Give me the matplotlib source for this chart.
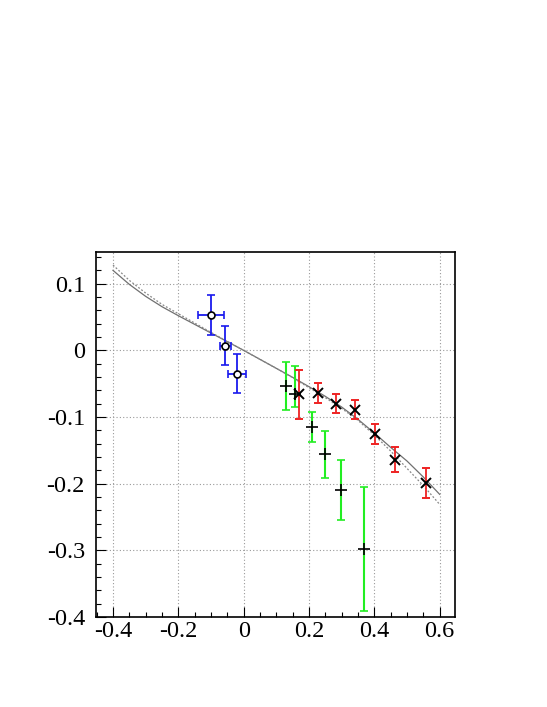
import matplotlib
matplotlib.use("Agg")
import matplotlib.pyplot as plt
from matplotlib.ticker import MultipleLocator

plt.rcParams["font.family"] = ["Liberation Serif", "DejaVu Serif"]
plt.rcParams["axes.unicode_minus"] = False

# blue points: open circles, x and y errors
blue_x = [-0.100, -0.056, -0.021]
blue_y = [0.053, 0.007, -0.035]
blue_xerr = [0.040, 0.016, 0.027]
blue_yerr = [0.030, 0.029, 0.029]

# green points: "+" markers, y errors (asymmetric for the second one)
green_x = [0.129, 0.158, 0.208, 0.249, 0.299, 0.369]
green_y = [-0.054, -0.066, -0.115, -0.156, -0.209, -0.298]
green_err_lo = [0.036, 0.019, 0.0225, 0.035, 0.045, 0.0925]
green_err_hi = [0.036, 0.042, 0.0225, 0.035, 0.045, 0.0925]

# red points: "x" markers, y errors
red_x = [0.170, 0.227, 0.284, 0.342, 0.403, 0.464, 0.557]
red_y = [-0.066, -0.064, -0.080, -0.089, -0.126, -0.164, -0.199]
red_yerr = [0.037, 0.0155, 0.014, 0.014, 0.015, 0.019, 0.023]

# curves
curve_x = [-0.4, -0.35, -0.3, -0.25, -0.2, -0.15, -0.1, -0.05, 0.0, 0.05, 0.1,
           0.15, 0.2, 0.25, 0.3, 0.35, 0.4, 0.45, 0.5, 0.55, 0.6]
solid_y = [0.120, 0.099, 0.081, 0.0655, 0.052, 0.039, 0.026, 0.013, 0.000,
           -0.0135, -0.027, -0.0405, -0.0545, -0.069, -0.085, -0.1035, -0.124,
           -0.1455, -0.166, -0.190, -0.216]
dotted_y = [0.128, 0.105, 0.086, 0.069, 0.055, 0.041, 0.027, 0.0135, 0.000,
            -0.0135, -0.027, -0.041, -0.056, -0.071, -0.087, -0.105, -0.127,
            -0.151, -0.177, -0.203, -0.231]

fig = plt.figure(figsize=(5.47, 7.07), dpi=100)
ax = fig.add_axes([0.1755, 0.1273, 0.6563, 0.5167])

ax.plot(curve_x, solid_y, color="#707070", lw=0.9, zorder=2)
ax.plot(curve_x, dotted_y, color="#888888", lw=0.9, ls=(0, (1.5, 1.5)), zorder=2)

ax.errorbar(blue_x, blue_y, xerr=blue_xerr, yerr=blue_yerr, fmt="o",
            mfc="white", mec="black", mew=1.2, ms=5, ecolor="#1a1aee",
            elinewidth=1.3, capsize=3, capthick=1.3, zorder=4)
ax.errorbar(green_x, green_y, yerr=[green_err_lo, green_err_hi], fmt="+",
            color="black", ms=8, mew=1.2, ecolor="#22ee22",
            elinewidth=1.5, capsize=3.2, capthick=1.5, zorder=3)
ax.errorbar(red_x, red_y, yerr=red_yerr, fmt="x", color="black", ms=7,
            mew=1.4, ecolor="#ee2222", elinewidth=1.3, capsize=3,
            capthick=1.3, zorder=3)

ax.set_xlim(-0.452, 0.647)
ax.set_ylim(-0.4, 0.148)
ax.xaxis.set_minor_locator(MultipleLocator(0.05))
ax.yaxis.set_minor_locator(MultipleLocator(0.02))
ax.set_xticks([-0.4, -0.2, 0, 0.2, 0.4, 0.6])
ax.set_xticklabels(["-0.4", "-0.2", "0", "0.2", "0.4", "0.6"])
ax.set_yticks([-0.4, -0.3, -0.2, -0.1, 0, 0.1])
ax.set_yticklabels(["-0.4", "-0.3", "-0.2", "-0.1", "0", "0.1"])

ax.grid(True, which="major", color="#999999", ls=(0, (1, 2)), lw=0.8)
ax.tick_params(which="both", direction="in", labelsize=17.5, top=False, right=False)
ax.tick_params(which="major", length=7, width=0.8)
ax.tick_params(which="minor", length=3.5, width=0.8)
ax.tick_params(axis="y", pad=8)
ax.tick_params(axis="x", pad=3)
for sp in ax.spines.values():
    sp.set_linewidth(1.2)

fig.savefig("out.png", dpi=100)
